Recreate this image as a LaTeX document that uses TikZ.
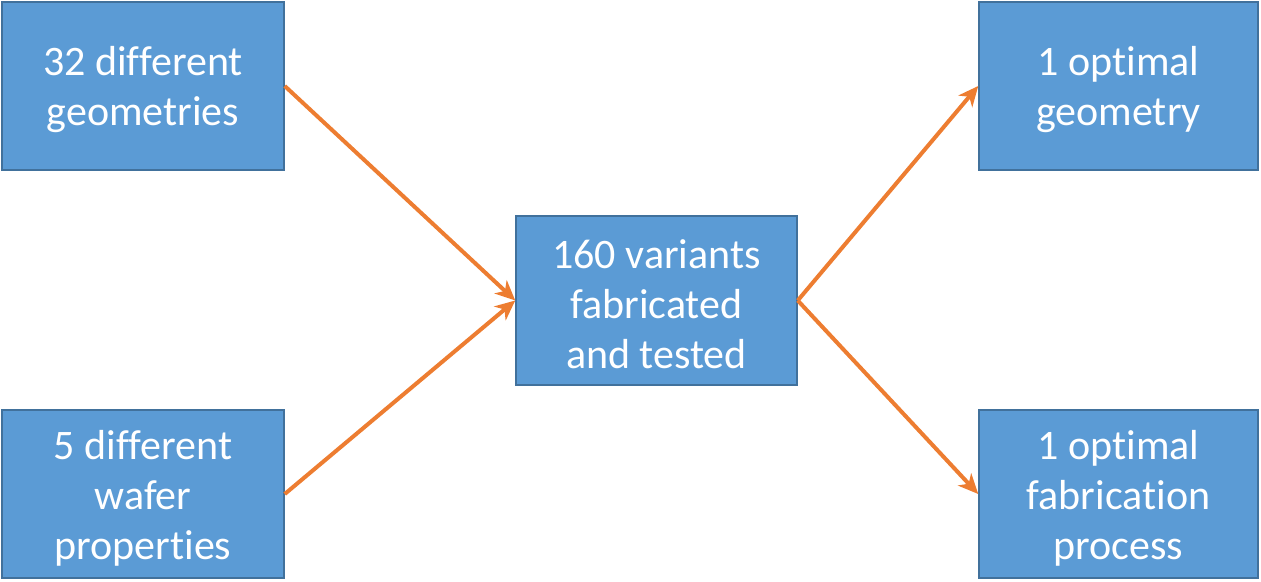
\documentclass[tikz,border=0pt]{standalone}
\usepackage{fontspec}
\setmainfont[Ligatures={NoCommon}]{Carlito}
\usetikzlibrary{arrows.meta}
\definecolor{boxfill}{HTML}{5B9BD5}
\definecolor{boxline}{HTML}{41719C}
\definecolor{arr}{HTML}{ED7D31}
\begin{document}
\begin{tikzpicture}[x=1pt,y=-1pt,
  box/.style={draw=boxline,line width=1.5pt,fill=boxfill,align=center,
    minimum width=282pt,minimum height=168pt,inner sep=0pt,
    font=\fontsize{42}{50}\selectfont},
  txt/.style={text=white,align=center,inner sep=0pt,font=\fontsize{42}{50}\selectfont},
  conn/.style={draw=arr,line width=4pt,-{Stealth[length=20pt,width=18pt,inset=6pt]}}]
\useasboundingbox (0,0) rectangle (1261,581);
\node[box] (g) at (143,86) {};
\node[box] (w) at (143,494) {};
\node[box,minimum width=281pt,minimum height=169pt] (c) at (656.5,300.5) {};
\node[box,minimum width=279pt] (og) at (1118.5,86) {};
\node[box,minimum width=279pt] (op) at (1118.5,494) {};
\node[txt] (gt) at ([yshift=-4pt]g.center) {32 different\\geometries};
\node[txt] (wt) at ([yshift=-4pt]w.center) {5 different\\wafer\\properties};
\node[txt] (ct) at ([yshift=-4pt]c.center) {160 variants\\fabricated\\and tested};
\node[txt] (ogt) at ([yshift=-4pt]og.center) {1 optimal\\geometry};
\node[txt] (opt) at ([yshift=-4pt]op.center) {1 optimal\\fabrication\\process};
\draw[conn] (g.east) -- (c.west);
\draw[conn] (w.east) -- (c.west);
\draw[conn] (c.east) -- (og.west);
\draw[conn] (c.east) -- (op.west);
\end{tikzpicture}
\end{document}
